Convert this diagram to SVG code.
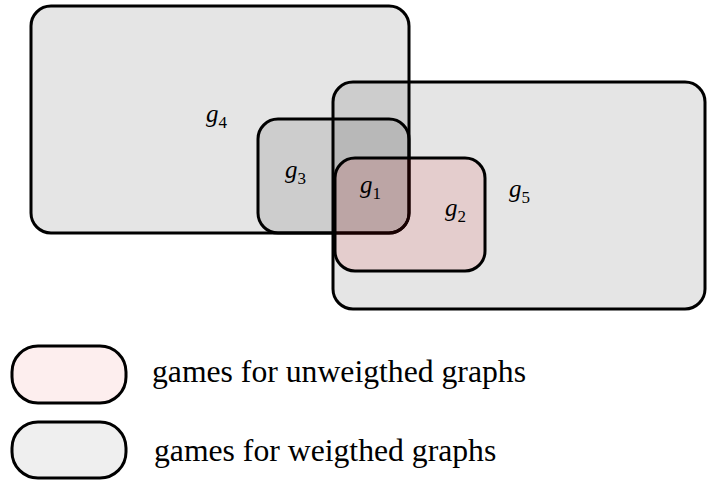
<svg xmlns="http://www.w3.org/2000/svg" width="707" height="482" viewBox="0 0 707 482">
  <style>
    .set { stroke: #000; stroke-width: 3; }
    .gray { fill: #000; fill-opacity: 0.1; }
    .pink { fill: #e00000; fill-opacity: 0.1; }
    .lbl { font-family: "Liberation Serif", "Times New Roman", serif; font-style: italic; font-size: 25px; fill: #000; }
    .sub { font-style: normal; font-size: 17px; }
    .leg { font-family: "Liberation Serif", "Times New Roman", serif; font-size: 31.7px; fill: #000; }
  </style>
  <rect width="707" height="482" fill="#fff"/>
  <g id="g4">
    <rect class="set gray" x="31" y="6" width="378" height="227" rx="20" ry="20"/>
    <text class="lbl" x="206" y="122">g<tspan class="sub" dy="6">4</tspan></text>
  </g>
  <g id="g5">
    <rect class="set gray" x="333" y="82" width="372" height="227" rx="20" ry="20"/>
    <text class="lbl" x="509" y="197">g<tspan class="sub" dy="6">5</tspan></text>
  </g>
  <g id="g3">
    <rect class="set gray" x="258" y="119" width="151" height="114" rx="20" ry="20"/>
    <text class="lbl" x="285" y="178">g<tspan class="sub" dy="6">3</tspan></text>
  </g>
  <g id="g2">
    <rect class="set pink" x="335" y="158" width="150" height="113" rx="20" ry="20"/>
    <text class="lbl" x="445" y="216">g<tspan class="sub" dy="6">2</tspan></text>
  </g>
  <g id="g1">
    <text class="lbl" x="360" y="193">g<tspan class="sub" dy="6">1</tspan></text>
  </g>
  <g id="connectors"></g>
  <g id="legend-unweighted">
    <rect class="set" fill="#fdeeee" x="12" y="346" width="114" height="57" rx="26" ry="26"/>
    <text class="leg" x="152" y="382">games for unweigthed graphs</text>
  </g>
  <g id="legend-weighted">
    <rect class="set" fill="#efefef" x="12" y="422" width="114" height="56" rx="26" ry="26"/>
    <text class="leg" x="154" y="461">games for weigthed graphs</text>
  </g>
</svg>
